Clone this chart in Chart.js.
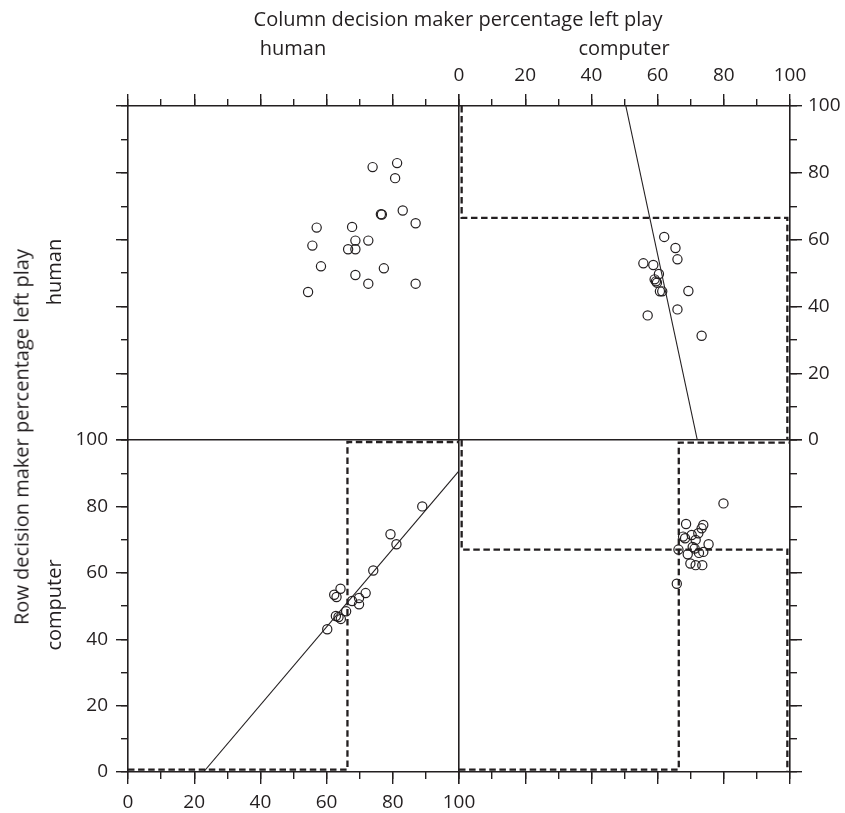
<!DOCTYPE html>
<html>
<head>
<meta charset="utf-8">
<script src="https://cdn.jsdelivr.net/npm/chart.js@4.4.1/dist/chart.umd.min.js"></script>
<style>
  body { margin: 0; background: #fff; }
  #wrap { position: relative; width: 845px; height: 813px; font-family: "Open Sans", sans-serif; color: #231f20; }
  #wrap canvas { position: absolute; left: 0; top: 0; }
  .lbl { position: absolute; white-space: nowrap; font-size: 20px; transform: translate(-50%, -50%); }
  .rot { transform: translate(-50%, -50%) rotate(-90deg); }
</style>
</head>
<body>
<div id="wrap">
  <canvas id="tl" width="845" height="813"></canvas>
  <canvas id="tr" width="845" height="813"></canvas>
  <canvas id="bl" width="845" height="813"></canvas>
  <canvas id="br" width="845" height="813"></canvas>
  <div class="lbl" style="left:458px; top:18px">Column decision maker percentage left play</div>
  <div class="lbl" style="left:293px; top:47px">human</div>
  <div class="lbl" style="left:624px; top:47px">computer</div>
  <div class="lbl rot" style="left:21px; top:437px">Row decision maker percentage left play</div>
  <div class="lbl rot" style="left:53px; top:272px">human</div>
  <div class="lbl rot" style="left:53px; top:605px">computer</div>
</div>
<script>
// tick values shared by every panel
const majorTicks = [0, 20, 40, 60, 80, 100];
const minorTicks = [0, 10, 20, 30, 40, 50, 60, 70, 80, 90, 100];

// row human / column human (top left)
const hhX = [73.9, 81.3, 80.7, 83.0, 76.4, 76.7, 86.9, 57.0, 67.7, 55.7, 68.7, 72.6, 66.5, 68.7, 58.3, 77.3, 68.7, 72.6, 86.9, 54.4];
const hhY = [81.7, 82.9, 78.4, 68.7, 67.6, 67.5, 64.9, 63.6, 63.8, 58.2, 59.7, 59.7, 57.1, 57.1, 52.0, 51.4, 49.4, 46.8, 46.8, 44.3];

// row human / column computer (top right)
const hcX = [62.0, 65.4, 66.0, 55.7, 58.7, 60.4, 59.1, 59.5, 59.8, 60.7, 61.4, 69.3, 66.0, 57.0, 73.3];
const hcY = [60.8, 57.5, 54.1, 52.9, 52.4, 49.7, 48.1, 47.5, 47.1, 44.5, 44.5, 44.6, 39.1, 37.3, 31.2];
const hcFit = [[50.4, 100], [72.0, 0]];
const hcBox = [[0.8, 100], [0.8, 66.5], [99.2, 66.5], [99.2, 0]];

// row computer / column human (bottom left)
const chX = [88.9, 79.3, 81.1, 74.1, 64.2, 62.3, 63.0, 71.8, 69.8, 67.7, 69.8, 65.9, 62.8, 63.6, 64.3, 60.2];
const chY = [80.0, 71.6, 68.6, 60.7, 55.2, 53.4, 52.7, 53.9, 52.4, 51.5, 50.5, 48.4, 47.0, 46.7, 46.1, 43.0];
const chFit = [[22.8, 0], [100, 90.7]];
const chBox = [[0, 0.7], [66.3, 0.7], [66.3, 99.4], [100, 99.4]];

// row computer / column computer (bottom right)
const ccX = [79.9, 68.6, 73.8, 73.3, 72.3, 70.3, 67.7, 68.3, 71.5, 75.4, 70.6, 71.2, 66.3, 73.8, 72.5, 69.1, 69.9, 71.5, 73.5, 65.8];
const ccY = [80.9, 74.7, 74.4, 73.4, 71.9, 71.4, 70.9, 70.4, 69.9, 68.6, 67.8, 67.3, 67.0, 66.3, 66.0, 65.6, 62.8, 62.3, 62.3, 56.7];
const ccBoxA = [[0.8, 100], [0.8, 67.0], [99.2, 67.0], [99.2, 0]];
const ccBoxB = [[0, 0.7], [66.4, 0.7], [66.4, 99.2], [100, 99.2]];

const ink = '#231f20';
const W = 845, H = 813;
const cols = [128, 459, 790];
const rows = [106, 440, 772];
// room kept for tick labels on each outer side (labels are clipped to the axis box)
const labelRoom = { top: 45, bottom: 41, left: 60, right: 50 };
const labelPad = { top: 7, bottom: 7, left: 8, right: 6 };

function xy(xs, ys) {
  return xs.map((x, i) => ({ x: x, y: ys[i] }));
}
function pairs(list) {
  return list.map(p => ({ x: p[0], y: p[1] }));
}

function axis(position, kind, labels) {
  // kind: 'major' | 'minor' | 'edge'
  const horiz = position === 'top' || position === 'bottom';
  const room = labels ? labelRoom[position] : 0;
  return {
    type: 'linear',
    axis: horiz ? 'x' : 'y',
    position: position,
    weight: kind === 'major' ? 2 : (kind === 'minor' ? 1 : 0),
    min: 0,
    max: 100,
    afterBuildTicks: s => {
      s.ticks = (kind === 'minor' ? minorTicks : majorTicks).map(v => ({ value: v }));
    },
    afterFit: s => {
      if (horiz) s.height = room; else s.width = room;
      s.paddingLeft = s.paddingRight = s.paddingTop = s.paddingBottom = 0;
    },
    grid: {
      display: kind !== 'edge',
      drawOnChartArea: false,
      drawTicks: true,
      tickLength: kind === 'minor' ? 7 : 12,
      color: ink,
      lineWidth: 1.4
    },
    border: { display: kind !== 'minor', color: ink, width: 1.6 },
    ticks: {
      display: !!labels,
      padding: labelPad[position],
      color: ink,
      autoSkip: false,
      maxRotation: 0,
      font: { family: 'Open Sans', size: 19 }
    }
  };
}

function sides(s) {
  // s: {top, bottom, left, right} each 'ticks' | 'labels' | 'edge'
  const out = {};
  const hz = ['top', 'bottom'].find(p => s[p] === 'ticks' || s[p] === 'labels');
  const vt = ['left', 'right'].find(p => s[p] === 'ticks' || s[p] === 'labels');
  out.x = axis(hz, 'major', s[hz] === 'labels');
  out.xm = axis(hz, 'minor', false);
  out.y = axis(vt, 'major', s[vt] === 'labels');
  out.ym = axis(vt, 'minor', false);
  ['top', 'bottom', 'left', 'right'].forEach(p => {
    if (s[p] === 'edge') out['e' + p] = axis(p, 'edge', false);
  });
  return out;
}

function points(xs, ys) {
  return {
    data: xy(xs, ys),
    pointStyle: 'circle',
    pointRadius: 4.6,
    pointBorderWidth: 1.2,
    pointBorderColor: ink,
    pointBackgroundColor: 'rgba(0,0,0,0)',
    showLine: false,
    order: 1
  };
}
function fitLine(list) {
  return { data: pairs(list), showLine: true, borderColor: ink, borderWidth: 1.1, pointRadius: 0, order: 2 };
}
function dashLine(list) {
  return { data: pairs(list), showLine: true, borderColor: ink, borderWidth: 2.3, borderDash: [6.5, 3.6], pointRadius: 0, order: 3 };
}

function panel(id, c, r, datasets, s) {
  const pad = { left: cols[c], top: rows[r], right: W - cols[c + 1], bottom: H - rows[r + 1] };
  ['top', 'bottom', 'left', 'right'].forEach(p => {
    if (s[p] === 'labels') pad[p] -= labelRoom[p];
  });
  new Chart(document.getElementById(id), {
    type: 'scatter',
    data: { datasets: datasets },
    options: {
      responsive: false,
      animation: false,
      events: [],
      layout: { padding: pad },
      plugins: { legend: { display: false }, tooltip: { enabled: false } },
      scales: sides(s)
    }
  });
}

panel('tl', 0, 0, [points(hhX, hhY)],
  { top: 'ticks', left: 'ticks', right: 'edge', bottom: 'edge' });
panel('tr', 1, 0, [points(hcX, hcY), fitLine(hcFit), dashLine(hcBox)],
  { top: 'labels', right: 'labels' });
panel('bl', 0, 1, [points(chX, chY), fitLine(chFit), dashLine(chBox)],
  { bottom: 'labels', left: 'labels' });
panel('br', 1, 1, [points(ccX, ccY), dashLine(ccBoxA), dashLine(ccBoxB)],
  { bottom: 'ticks', right: 'ticks', left: 'edge', top: 'edge' });
</script>
</body>
</html>
